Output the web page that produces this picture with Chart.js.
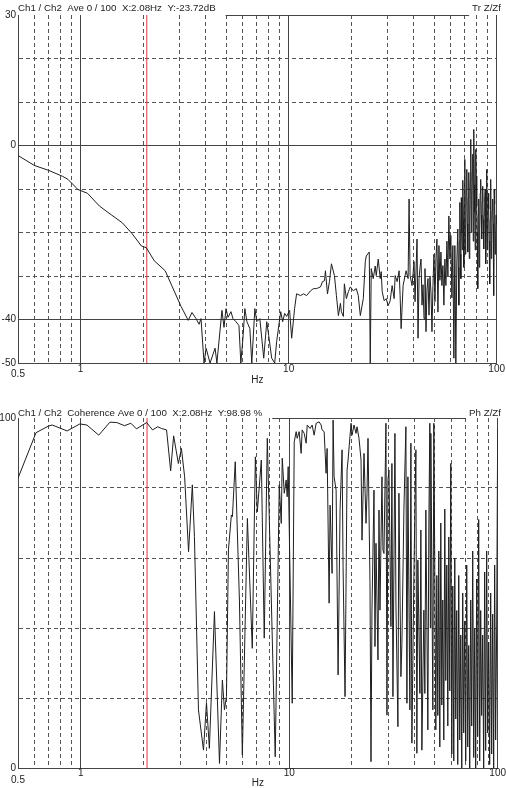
<!DOCTYPE html>
<html>
<head>
<meta charset="utf-8">
<script src="https://cdn.jsdelivr.net/npm/chart.js@4.4.1/dist/chart.umd.min.js"></script>
<style>
  html, body { margin: 0; padding: 0; background: #fff; }
  #wrap { position: relative; width: 506px; height: 788px; }
  canvas { position: absolute; left: 0; }
  #trChart { top: 0; }
  #cohChart { top: 394px; }
</style>
</head>
<body>
<div id="wrap">
  <canvas id="trChart" width="506" height="394"></canvas>
  <canvas id="cohChart" width="506" height="394"></canvas>
</div>
<script>
// Frequency axis (log), grid positions and labels
const hzGrid = [0.5, 0.6, 0.7, 0.8, 0.9, 1, 2, 3, 4, 5, 6, 7, 8, 9, 10, 20, 30, 40, 50, 60, 70, 80, 90, 100];
const hzSolid = [0.5, 1, 10, 100];
const hzLabels = { 0.5: '0.5', 1: '1', 10: '10', 100: '100' };

// Transfer function axis (dB)
const trTicks = [-50, -40, -30, -20, -10, 0, 10, 20, 30];
const trSolid = [-50, -40, 0];
const trLabels = [30, 0, -40, -50];

// Coherence axis (%)
const cohTicks = [0, 20, 40, 60, 80, 100];
const cohSolid = [0];
const cohLabels = [100, 0];

// Cursor
const cursorHz = 2.08;

const trHeader = 'Ch1 / Ch2  Ave 0 / 100  X:2.08Hz  Y:-23.72dB';
const trTag = 'Tr Z/Zf';
const cohHeader = 'Ch1 / Ch2  Coherence Ave 0 / 100  X:2.08Hz  Y:98.98 %';
const cohTag = 'Ph Z/Zf';

// Tr Z/Zf
const trHz = [
  0.5, 0.6, 0.7, 0.82, 0.87, 0.97, 1.08, 1.23, 1.41, 1.59, 1.77, 1.96, 2.07, 2.26, 2.55, 2.76,
  3.04, 3.11, 3.29, 3.43, 3.59, 3.71, 3.79, 3.92, 4.01, 4.19, 4.43, 4.52, 4.78, 4.89, 5.0, 5.11,
  5.28, 5.4, 5.58, 5.77, 5.89, 6.03, 6.16, 6.3, 6.51, 6.65, 6.88, 7.03, 7.27, 7.59, 7.85, 8.02,
  8.29, 8.57, 8.76, 9.16, 9.36, 9.57, 9.78, 10.11, 10.34, 10.68, 10.92, 11.41, 11.8, 12.2, 12.75, 13.17,
  13.61, 14.23, 14.54, 14.87, 15.03, 15.37, 15.71, 16.06, 16.6, 16.97, 17.35, 17.74, 17.93, 18.33, 18.53, 18.95,
  19.37, 19.8, 20.46, 21.15, 21.62, 22.11, 22.85, 23.36, 23.62, 24.41, 24.68, 24.95, 25.51, 26.08, 26.37, 26.96,
  27.56, 27.86, 28.17, 28.8, 29.44, 30.1, 30.76, 31.45, 32.15, 32.51, 33.23, 33.97, 34.35, 34.73, 35.5, 36.29,
  36.7, 37.52, 37.93, 38.35, 39.2, 40.08, 40.52, 41.42, 41.88, 42.36, 42.82, 43.29, 43.77, 44.26, 44.75, 45.24,
  45.74, 46.25, 46.76, 47.28, 47.8, 48.33, 48.87, 49.41, 49.96, 50.51, 51.07, 51.63, 52.2, 52.78, 53.36, 53.96,
  54.55, 55.16, 55.77, 56.38, 57.02, 57.66, 58.29, 58.92, 59.58, 60.24, 60.91, 61.58, 62.27, 62.95, 63.64, 64.35,
  65.06, 65.42, 65.78, 66.15, 66.53, 66.9, 67.26, 67.63, 67.99, 68.36, 68.74, 69.13, 69.52, 69.9, 70.29, 70.67,
  71.06, 71.45, 71.85, 72.24, 72.63, 73.04, 73.45, 73.86, 74.27, 74.67, 75.08, 75.5, 75.93, 76.35, 76.77, 77.19,
  77.62, 78.04, 78.46, 78.89, 79.33, 79.77, 80.21, 80.65, 81.1, 81.55, 82.0, 82.45, 82.91, 83.36, 83.81, 84.28,
  84.75, 85.22, 85.7, 86.17, 86.65, 87.12, 87.6, 88.09, 88.58, 89.07, 89.56, 90.05, 90.55, 91.05, 91.55, 92.06,
  92.58, 93.09, 93.61, 94.13, 94.65, 95.17, 95.7, 96.22, 96.74, 97.27, 97.81, 98.35, 98.9, 99.45, 100
];
const trDb = [
  -2.3, -4.6, -5.7, -7.1, -7.8, -10.1, -11.0, -13.9, -16.0, -17.8, -20.3, -23.1, -23.5, -26.5, -28.8, -32.5,
  -37.0, -37.9, -40.2, -38.4, -39.8, -41.1, -39.8, -50, -46.6, -50, -46.6, -50, -37.9, -41.8, -37.5, -39.5,
  -38.2, -39.8, -40.5, -41.4, -50, -44.3, -37.5, -40.5, -42.1, -50, -37.5, -40.5, -39.8, -48.9, -40.5, -43.7,
  -48.9, -50, -45.0, -38.2, -40.5, -38.6, -39.3, -37.9, -44.3, -37.5, -34.1, -34.5, -34.1, -34.5, -33.4, -32.9,
  -32.9, -32.5, -31.3, -31.1, -28.8, -34.1, -31.3, -27.2, -29.9, -34.5, -39.1, -36.3, -38.2, -39.3, -31.8, -35.2,
  -33.6, -32.5, -33.4, -32.9, -34.5, -39.1, -35.2, -26.7, -25.4, -24.5, -50, -28.3, -30.6, -27.7, -29.9, -26.1,
  -30.6, -29.0, -33.6, -35.7, -35.2, -36.8, -35.7, -32.2, -35.2, -29.9, -31.3, -28.8, -34.5, -42.1, -32.2, -29.9,
  -28.8, -30.6, -12.3, -29.9, -32.2, -26.7, -35.9, -21.5, -44.3, -30.6, -28.0, -26.1, -36.7, -32.0, -39.8, -28.3,
  -42.8, -33.0, -30.6, -39.0, -30.0, -33.7, -42.8, -32.2, -25.0, -35.9, -26.1, -21.5, -38.3, -23.0, -31.0, -24.5,
  -32.2, -27.6, -36.7, -26.1, -32.2, -22.0, -30.0, -16.2, -26.1, -20.7, -35.0, -23.0, -48.9, -23.0, -50, -26.8,
  -19.2, -28.0, -36.7, -22.0, -13.1, -25.0, -30.6, -12.0, -20.0, -24.0, -8.0, -17.0, -28.0, -14.0, -3.2, -25.0,
  -19.2, -10.0, -5.5, -18.0, -24.5, -12.0, -6.2, -26.0, -18.0, -8.0, 1.4, -20.0, -11.6, -6.0, -2.0, -22.0,
  3.7, -9.0, -15.4, -24.0, -0.9, -7.0, -13.9, -20.0, -32.9, -16.0, -12.3, -28.0, -19.2, -11.0, -7.8, -16.0,
  -21.5, -13.0, -9.4, -17.0, -23.8, -16.0, -12.3, -10.0, -27.2, -19.0, -5.5, -24.0, -20.3, -11.0, -14.6, -22.0,
  -31.8, -17.0, -7.8, -26.0, -22.6, -15.0, -12.3, -18.0, -34.5, -10.0, -13.5, -25.0, -21.5, -16.0, -18.1
];

// Coherence
const cohHz = [
  0.5, 0.61, 0.7, 0.73, 0.86, 0.99, 1.07, 1.22, 1.38, 1.49, 1.62, 1.74, 1.85, 2.07, 2.21, 2.34,
  2.44, 2.58, 2.7, 2.79, 2.94, 3.04, 3.15, 3.29, 3.43, 3.51, 3.67, 3.88, 4.01, 4.14, 4.38, 4.63,
  4.78, 4.89, 5.0, 5.11, 5.28, 5.34, 5.51, 5.77, 5.96, 6.3, 6.65, 6.88, 7.03, 7.35, 7.59, 7.85,
  8.57, 8.96, 9.16, 9.26, 9.47, 9.67, 9.78, 9.89, 10.34, 10.57, 10.8, 10.92, 11.16, 11.41, 11.54, 11.8,
  12.06, 12.2, 12.6, 12.88, 13.17, 13.47, 13.91, 14.23, 14.38, 14.71, 15.03, 15.2, 15.54, 15.71, 16.06, 16.24,
  16.42, 16.79, 17.16, 17.54, 17.93, 18.13, 18.53, 18.95, 19.16, 19.8, 20.02, 20.46, 20.92, 21.15, 21.62, 22.11,
  22.35, 22.85, 23.36, 23.62, 23.88, 24.41, 24.68, 24.95, 25.51, 25.79, 26.08, 26.66, 26.96, 27.25, 27.86, 28.17,
  28.48, 29.12, 29.44, 29.77, 30.1, 30.76, 31.1, 31.45, 32.15, 32.51, 33.23, 33.6, 34.35, 34.73, 35.5, 36.29,
  36.7, 37.11, 37.93, 38.35, 38.77, 39.63, 40.52, 40.96, 41.42, 42.36, 42.82, 43.29, 44.26, 44.75, 45.24, 46.25,
  46.76, 47.28, 47.54, 47.8, 48.87, 49.41, 50.51, 51.07, 51.63, 52.2, 52.78, 53.36, 53.96, 54.55, 55.16, 55.77,
  56.38, 57.02, 57.66, 58.29, 58.92, 59.58, 60.24, 60.91, 61.58, 62.27, 62.95, 63.64, 64.35, 65.06, 65.78, 66.53,
  67.26, 67.99, 68.74, 69.52, 70.29, 71.06, 71.85, 72.63, 73.45, 74.27, 75.08, 75.93, 76.77, 77.62, 78.46, 79.33,
  80.21, 81.1, 82.0, 82.91, 83.81, 84.75, 85.7, 86.65, 87.6, 88.58, 89.56, 90.55, 91.55, 92.58, 93.61, 94.65,
  95.7, 96.74, 97.81, 98.9, 100
];
const cohPct = [
  82.8, 95.8, 97.7, 98.0, 96.3, 98.3, 98.0, 95.1, 98.8, 98.7, 97.8, 98.5, 96.9, 98.7, 96.6, 97.5,
  97.0, 96.6, 84.9, 94.9, 87.0, 91.3, 83.2, 61.8, 80.9, 66.1, 16.6, 5.1, 18.7, 5.6, 44.7, 1.3,
  25.1, 16.6, 20.4, 62.3, 72.3, 71.8, 87.5, 48.0, 3.7, 71.3, 34.2, 88.9, 73.2, 88.0, 37.1, 94.2,
  3.2, 80.9, 69.9, 88.5, 78.5, 82.3, 77.5, 86.1, 18.5, 93.2, 96.1, 94.2, 96.1, 89.9, 96.6, 95.6,
  92.8, 98.0, 97.0, 98.0, 95.1, 98.5, 98.9, 98.0, 96.6, 96.1, 84.2, 91.3, 47.1, 75.1, 55.6, 99.4,
  83.2, 79.4, 26.6, 73.7, 90.9, 57.5, 20.4, 85.1, 88.0, 98.5, 95.1, 98.0, 95.6, 97.5, 94.2, 88.0,
  65.1, 89.9, 69.9, 78.5, 94.2, 52.8, 1.8, 45.1, 79.4, 34.7, 64.2, 30.9, 73.7, 45.1, 83.2, 62.3,
  61.3, 98.5, 15.1, 82.3, 85.1, 40.4, 87.0, 20.4, 95.6, 47.1, 11.8, 78.5, 26.1, 35.6, 73.7, 97.5,
  18.5, 83.2, 16.6, 92.8, 7.1, 54.7, 90.9, 4.2, 59.4, 21.3, 68.0, 5.1, 45.1, 21.3, 73.7, 10.9,
  68.9, 98.5, 40.0, 95.6, 16.6, 98.5, 10.9, 55, 15, 62, 6, 70, 18, 48, 8, 74,
  25, 58, 12, 66, 22, 87, 4, 52, 2, 60, 14, 45, 1, 55, 8, 38,
  0, 50, 10, 42, 2, 58, 6, 35, 0, 48, 12, 62, 3, 40, 0, 54,
  9, 71, 2, 45, 15, 38, 0, 56, 5, 62, 10, 36, 1, 50, 4, 44,
  0, 58, 8, 40, 97
];

const FONT = '"Liberation Sans", Arial, sans-serif';
Chart.defaults.font.family = FONT;
Chart.defaults.font.size = 10;
Chart.defaults.color = '#222';

const SOLID = '#444';
const DASHED = '#555';

// Header line with the partial top border of each plot
const headerPlugin = {
  id: 'header',
  afterDraw(chart, args, opts) {
    const { ctx, chartArea } = chart;
    ctx.save();
    ctx.font = '9.75px ' + FONT;
    ctx.fillStyle = '#222';
    ctx.textBaseline = 'middle';
    ctx.textAlign = 'left';
    ctx.fillText(opts.left, chartArea.left, opts.y);
    ctx.textAlign = 'right';
    ctx.fillText(opts.right, chart.width - 5, opts.y);
    const x0 = chartArea.left + ctx.measureText(opts.left).width + 10;
    const x1 = chart.width - 5 - ctx.measureText(opts.right).width - 3;
    ctx.strokeStyle = SOLID;
    ctx.lineWidth = 1;
    ctx.beginPath();
    ctx.moveTo(x0, chartArea.top + 0.5);
    ctx.lineTo(x1, chartArea.top + 0.5);
    ctx.stroke();
    ctx.restore();
  }
};

function makeChart(id, cfg) {
  const points = cfg.xs.map((f, i) => ({ x: f, y: cfg.ys[i] }));
  return new Chart(document.getElementById(id), {
    type: 'line',
    data: {
      datasets: [
        {
          data: points,
          borderColor: '#1e1e1e',
          borderWidth: 1,
          pointRadius: 0,
          tension: 0,
          fill: false
        },
        {
          data: [{ x: cursorHz, y: cfg.yMin }, { x: cursorHz, y: cfg.yMax }],
          borderColor: '#e0343e',
          borderWidth: 1,
          pointRadius: 0,
          fill: false
        }
      ]
    },
    options: {
      responsive: false,
      animation: false,
      events: [],
      layout: { autoPadding: false, padding: cfg.padding },
      plugins: {
        legend: { display: false },
        tooltip: { enabled: false },
        header: { left: cfg.header, right: cfg.tag, y: cfg.headerY }
      },
      scales: {
        x: {
          type: 'logarithmic',
          min: 0.5,
          max: 100,
          afterBuildTicks: (s) => { s.ticks = hzGrid.map((v) => ({ value: v })); },
          afterFit: (s) => { s.height = cfg.xAxisHeight; },
          ticks: {
            autoSkip: false,
            maxRotation: 0,
            padding: cfg.xPad,
            color: '#222',
            font: (c) => (c.tick && c.tick.value === 0.5)
              ? { size: 10, lineHeight: cfg.halfLh }
              : { size: 10, lineHeight: 1 },
            callback: (v) => {
              if (v === 0.5) return ['', '0.5'];
              return hzLabels[v] || '';
            }
          },
          grid: {
            drawTicks: false,
            lineWidth: 1,
            color: (c) => hzSolid.includes(c.tick && c.tick.value) ? SOLID : DASHED
          },
          border: {
            display: true,
            color: SOLID,
            width: 1,
            dash: (c) => hzSolid.includes(c.tick && c.tick.value) ? [] : [4, 3]
          },
          title: { display: true, text: 'Hz', color: '#222', padding: 0, font: { size: 10, lineHeight: 1 } }
        },
        y: {
          type: 'linear',
          min: cfg.yMin,
          max: cfg.yMax,
          afterBuildTicks: (s) => { s.ticks = cfg.yTicks.map((v) => ({ value: v })); },
          afterFit: (s) => { s.width = 18; },
          ticks: {
            autoSkip: false,
            padding: 2,
            color: '#222',
            font: { size: 10 },
            callback: (v) => cfg.yLabels.includes(v) ? String(v) : ''
          },
          grid: {
            drawTicks: false,
            lineWidth: 1,
            color: (c) => {
              const v = c.tick && c.tick.value;
              if (v === cfg.yMax) return 'rgba(0,0,0,0)';
              return cfg.ySolid.includes(v) ? SOLID : DASHED;
            }
          },
          border: {
            display: true,
            color: SOLID,
            width: 1,
            dash: (c) => cfg.ySolid.includes(c.tick && c.tick.value) ? [] : [4, 3]
          }
        }
      }
    },
    plugins: [headerPlugin]
  });
}

makeChart('trChart', {
  xs: trHz, ys: trDb,
  yMin: -50, yMax: 30, yTicks: trTicks, ySolid: trSolid, yLabels: trLabels,
  header: trHeader, tag: trTag, headerY: 8.5,
  padding: { top: 15, right: 6, bottom: 9, left: 0 },
  xAxisHeight: 22, xPad: 1, halfLh: '7px'
});

makeChart('cohChart', {
  xs: cohHz, ys: cohPct,
  yMin: 0, yMax: 100, yTicks: cohTicks, ySolid: cohSolid, yLabels: cohLabels,
  header: cohHeader, tag: cohTag, headerY: 19.5,
  padding: { top: 24, right: 6, bottom: 0, left: 0 },
  xAxisHeight: 20, xPad: 0, halfLh: '8px'
});
</script>
</body>
</html>
